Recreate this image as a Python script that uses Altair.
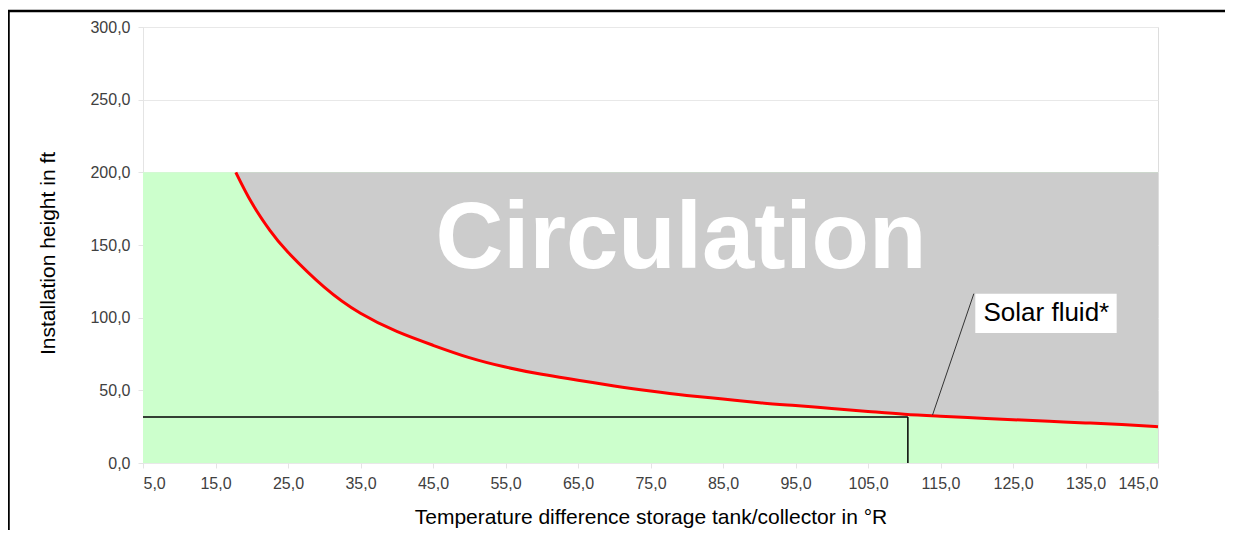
import altair as alt
import pandas as pd

# Curve: installation height limit
delta_t = [17.8, 20, 22.5, 25, 30, 35, 40, 45, 50, 55, 60, 65, 70, 75, 80, 85,
           90, 95, 100, 105, 110, 115, 120, 125, 130, 135, 140, 145]
height = [200, 179, 160, 145, 121, 103, 90.5, 81, 72.5, 66, 61, 57, 53, 49.5, 46.5, 44,
          41.5, 39.5, 37.5, 35.5, 33.5, 32.2, 31, 29.8, 28.7, 27.6, 26.5, 25]

x_ticks = [5, 15, 25, 35, 45, 55, 65, 75, 85, 95, 105, 115, 125, 135, 145]
y_ticks = [0, 50, 100, 150, 200, 250, 300]

region_top = 200
example_dt = 110.5
example_h = 31.7

FONT = "Liberation Sans"
W, H = 1015, 436

curve = pd.DataFrame({"dt": delta_t, "h": height, "top": [region_top] * len(delta_t)})

xscale = alt.Scale(domain=[5, 145], nice=False, zero=False)
yscale = alt.Scale(domain=[0, 300], nice=False)
label_expr = "replace(format(datum.value, '.1f'), '.', ',')"

xaxis = alt.Axis(values=x_ticks, labelExpr=label_expr, grid=False, domain=False,
                 tickColor="#e4e4e4", tickSize=5, labelPadding=7, labelFont=FONT,
                 labelFontSize=16, labelColor="#404040",
                 title="Temperature difference storage tank/collector in °R",
                 titleFont=FONT, titleFontSize=21, titleFontWeight="normal",
                 titleColor="#000000", titlePadding=15)
yaxis = alt.Axis(values=y_ticks, labelExpr=label_expr, grid=True, gridColor="#e8e8e8",
                 domainColor="#e4e4e4", tickColor="#e4e4e4", tickSize=5, labelPadding=8,
                 labelFont=FONT, labelFontSize=16, labelColor="#404040",
                 title="Installation height in ft", titleFont=FONT, titleFontSize=21,
                 titleFontWeight="normal", titleColor="#000000", titlePadding=31,
                 titleY=226)

green = alt.Chart(pd.DataFrame({"x": [5], "x2": [145], "y": [0], "y2": [region_top]})).mark_rect(
    color="#ccffcc").encode(
    x=alt.X("x:Q", scale=xscale, axis=xaxis),
    x2="x2:Q",
    y=alt.Y("y:Q", scale=yscale, axis=yaxis),
    y2="y2:Q",
)

gray = alt.Chart(curve).mark_area(color="#cccccc", opacity=1, interpolate="natural").encode(
    x=alt.X("dt:Q", scale=xscale),
    y=alt.Y("h:Q", scale=yscale),
    y2="top:Q",
)

line = alt.Chart(curve).mark_line(color="#ff0000", strokeWidth=3, interpolate="natural").encode(
    x=alt.X("dt:Q", scale=xscale),
    y=alt.Y("h:Q", scale=yscale),
)

guides = alt.Chart(pd.DataFrame({
    "x": [5, example_dt], "x2": [example_dt, example_dt],
    "y": [example_h, 0], "y2": [example_h, example_h]})).mark_rule(
    color="#000000", strokeWidth=1.5).encode(
    x=alt.X("x:Q", scale=xscale), x2="x2:Q",
    y=alt.Y("y:Q", scale=yscale), y2="y2:Q",
)

circ = alt.Chart(pd.DataFrame({"x": [79.2], "y": [134.2], "t": ["Circulation"]})).mark_text(
    font=FONT, fontSize=94, fontWeight="bold", color="#ffffff", align="center",
    baseline="alphabetic").encode(
    x=alt.X("x:Q", scale=xscale), y=alt.Y("y:Q", scale=yscale), text="t:N")

leader = alt.Chart(pd.DataFrame({"x": [113.9], "x2": [119.6], "y": [33.0], "y2": [116.5]})).mark_rule(
    color="#333333", strokeWidth=1).encode(
    x=alt.X("x:Q", scale=xscale), x2="x2:Q",
    y=alt.Y("y:Q", scale=yscale), y2="y2:Q")

box = alt.Chart(pd.DataFrame({"x": [119.8], "x2": [139.3], "y": [89.5], "y2": [116.5]})).mark_rect(
    color="#ffffff").encode(
    x=alt.X("x:Q", scale=xscale), x2="x2:Q",
    y=alt.Y("y:Q", scale=yscale), y2="y2:Q")

box_text = alt.Chart(pd.DataFrame({"x": [129.6], "y": [103], "t": ["Solar fluid*"]})).mark_text(
    font=FONT, fontSize=26, color="#000000", align="center", baseline="middle").encode(
    x=alt.X("x:Q", scale=xscale), y=alt.Y("y:Q", scale=yscale), text="t:N")

frame = alt.Chart(pd.DataFrame({"a": [0]})).mark_rect(
    fill=None, stroke="#000000", strokeWidth=2.5).encode(
    x=alt.value(-134.5), x2=alt.value(W + 80), y=alt.value(-16), y2=alt.value(H + 80))

chart = alt.layer(green, gray, line, guides, circ, leader, box, box_text, frame).properties(
    width=W, height=H,
    autosize=alt.AutoSizeParams(type="none"),
    padding={"left": 135, "top": 19, "right": 67, "bottom": 67},
).configure_view(stroke=None).configure(background="#ffffff")

chart.save("out.html", embed_options={"renderer": "svg", "actions": False})
